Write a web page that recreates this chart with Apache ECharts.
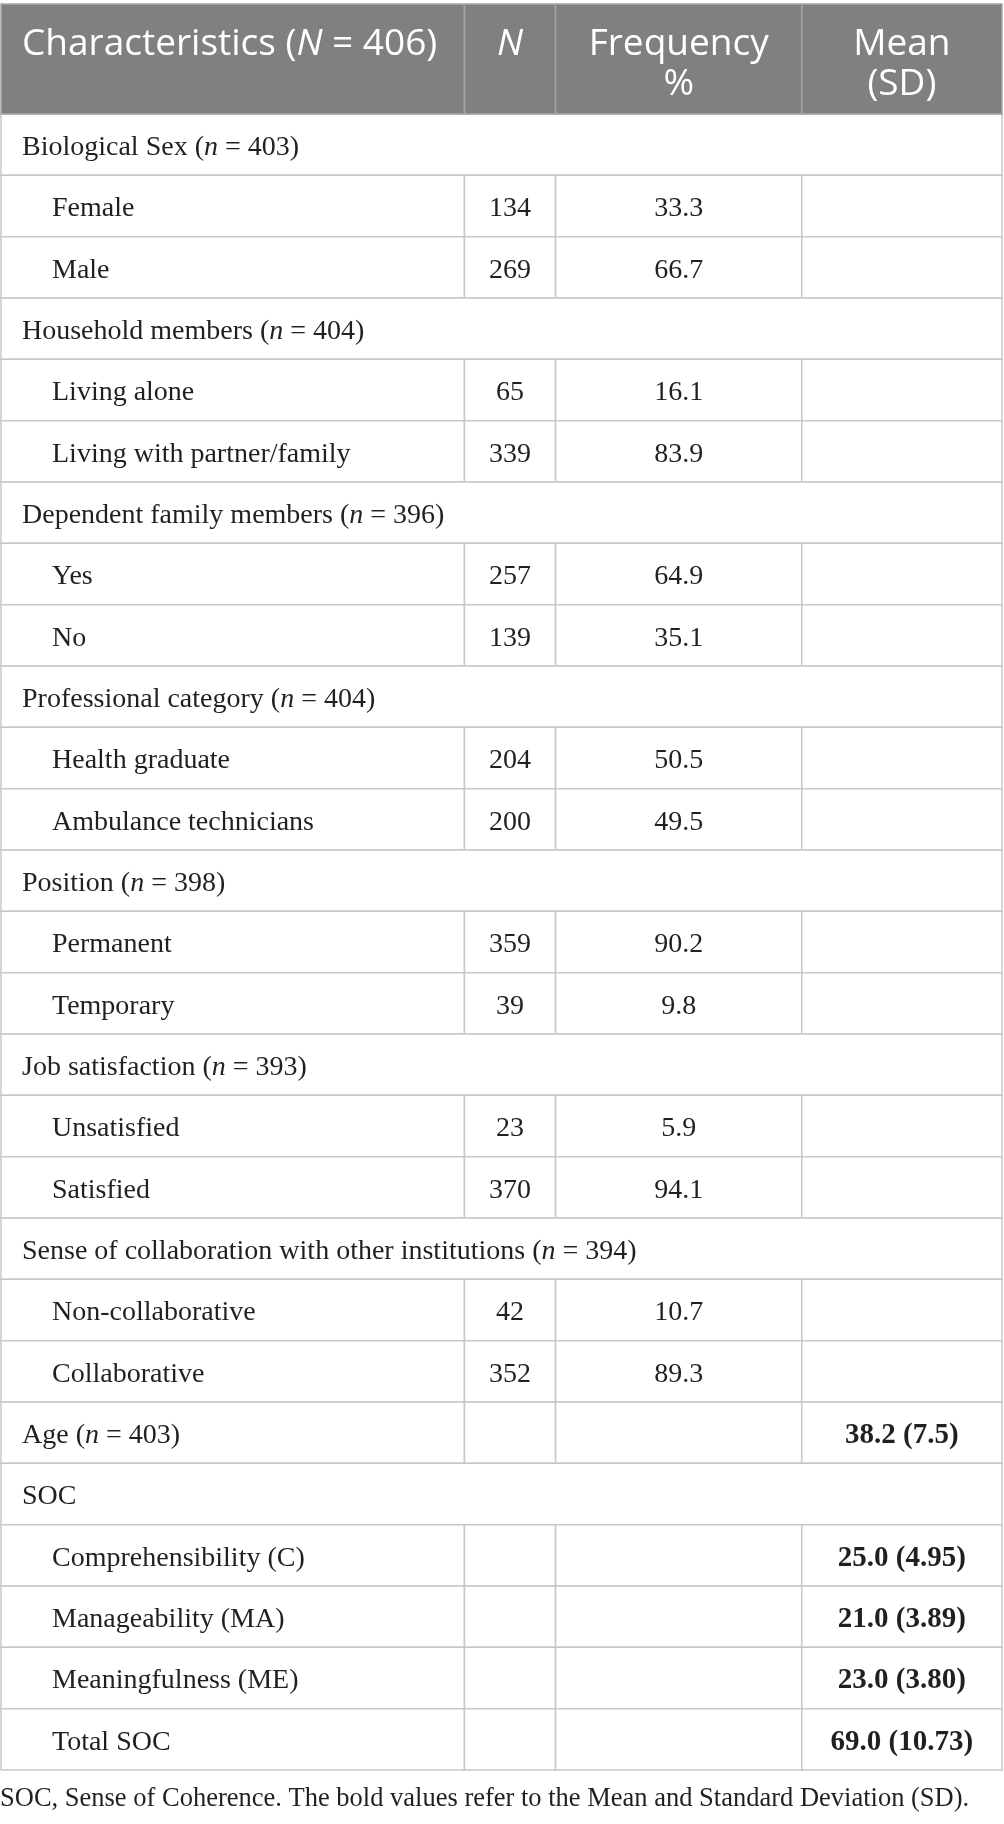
<!DOCTYPE html>
<html>
<head>
<meta charset="utf-8">
<script src="https://cdn.jsdelivr.net/npm/echarts@6/dist/echarts.min.js"></script>
<style>
  html, body { margin: 0; padding: 0; background: #fff; }
  #main { width: 1004px; height: 1824px; }
</style>
</head>
<body>
<div id="main"></div>
<script>
// row labels, top to bottom
const categories = [
  'Biological Sex', 'Female', 'Male',
  'Household members', 'Living alone', 'Living with partner/family',
  'Dependent family members', 'Yes', 'No',
  'Professional category', 'Health graduate', 'Ambulance technicians',
  'Position', 'Permanent', 'Temporary',
  'Job satisfaction', 'Unsatisfied', 'Satisfied',
  'Sense of collaboration with other institutions', 'Non-collaborative', 'Collaborative',
  'Age', 'SOC',
  'Comprehensibility (C)', 'Manageability (MA)', 'Meaningfulness (ME)', 'Total SOC'
];
// span = full width group row, group = top level row with cells, item = indented row
const rowKind = [
  'span', 'item', 'item',
  'span', 'item', 'item',
  'span', 'item', 'item',
  'span', 'item', 'item',
  'span', 'item', 'item',
  'span', 'item', 'item',
  'span', 'item', 'item',
  'group', 'span',
  'item', 'item', 'item', 'item'
];
// sub-sample sizes (n) per group row
const groupN = [
  403, null, null,
  404, null, null,
  396, null, null,
  404, null, null,
  398, null, null,
  393, null, null,
  394, null, null,
  403, null,
  null, null, null, null
];
const counts = [
  null, 134, 269,
  null, 65, 339,
  null, 257, 139,
  null, 204, 200,
  null, 359, 39,
  null, 23, 370,
  null, 42, 352,
  null, null,
  null, null, null, null
];
const freqPct = [
  null, 33.3, 66.7,
  null, 16.1, 83.9,
  null, 64.9, 35.1,
  null, 50.5, 49.5,
  null, 90.2, 9.8,
  null, 5.9, 94.1,
  null, 10.7, 89.3,
  null, null,
  null, null, null, null
];
const means = [
  null, null, null, null, null, null, null, null, null, null, null, null,
  null, null, null, null, null, null, null, null, null,
  38.2, null,
  25.0, 21.0, 23.0, 69.0
];
const sdText = [
  null, null, null, null, null, null, null, null, null, null, null, null,
  null, null, null, null, null, null, null, null, null,
  '7.5', null,
  '4.95', '3.89', '3.80', '10.73'
];
const totalN = 406;
const footnote = 'SOC, Sense of Coherence. The bold values refer to the Mean and Standard Deviation (SD).';

// column edges in % of table width
const colEdges = [0, 46.3, 55.4, 80.0, 100];

const SERIF = '"Liberation Serif", "DejaVu Serif", serif';
const SANS = '"Open Sans", "Noto Sans", sans-serif';
const BODY_SIZE = 28;
const HEAD_SIZE = 37;
const INK = '#231f20';
const LINE = '#c8c8c8';
const HEAD_BG = '#808080';
const HEAD_H = 110;
const TEXT_DY = 3;

const chart = echarts.init(document.getElementById('main'), null, { renderer: 'canvas' });

function bodyRow(params, api) {
  const i = api.value(0);
  const cy = api.coord([0, i])[1];
  const h = api.size([0, 1])[1];
  const y0 = cy - h / 2;
  const ty = cy + TEXT_DY;
  const xs = colEdges.map(e => api.coord([e, i])[0]);
  const kind = rowKind[i];
  const children = [];
  const rich = {
    t: { fontFamily: SERIF, fontSize: BODY_SIZE, fill: INK },
    i: { fontFamily: SERIF, fontSize: BODY_SIZE, fill: INK, fontStyle: 'italic' }
  };
  if (kind === 'span') {
    children.push({
      type: 'rect',
      shape: { x: xs[0], y: y0, width: xs[4] - xs[0], height: h },
      style: { fill: '#fff', stroke: LINE, lineWidth: 1.5 }
    });
  } else {
    for (let k = 0; k < 4; k++) {
      children.push({
        type: 'rect',
        shape: { x: xs[k], y: y0, width: xs[k + 1] - xs[k], height: h },
        style: { fill: '#fff', stroke: LINE, lineWidth: 1.5 }
      });
    }
  }
  let label = '{t|' + categories[i] + '}';
  if (groupN[i] != null) label = '{t|' + categories[i] + ' (}{i|n}{t| = ' + groupN[i] + ')}';
  children.push({
    type: 'text',
    style: {
      x: xs[0] + (kind === 'item' ? 51 : 21), y: ty,
      text: label, rich: rich, fill: INK,
      align: 'left', verticalAlign: 'middle'
    }
  });
  if (counts[i] != null) {
    children.push({
      type: 'text',
      style: { x: (xs[1] + xs[2]) / 2, y: ty, text: String(counts[i]), font: BODY_SIZE + 'px ' + SERIF,
        fill: INK, align: 'center', verticalAlign: 'middle' }
    });
  }
  if (freqPct[i] != null) {
    children.push({
      type: 'text',
      style: { x: (xs[2] + xs[3]) / 2, y: ty, text: freqPct[i].toFixed(1), font: BODY_SIZE + 'px ' + SERIF,
        fill: INK, align: 'center', verticalAlign: 'middle' }
    });
  }
  if (means[i] != null) {
    children.push({
      type: 'text',
      style: { x: (xs[3] + xs[4]) / 2, y: ty, text: means[i].toFixed(1) + ' (' + sdText[i] + ')',
        font: 'bold ' + (BODY_SIZE + 1) + 'px ' + SERIF,
        fill: INK, align: 'center', verticalAlign: 'middle' }
    });
  }
  return { type: 'group', children: children };
}

function headerRow(params, api) {
  const cs = params.coordSys;
  const y0 = cs.y - HEAD_H;
  const xs = colEdges.map(e => api.coord([e, 0])[0]);
  const l1 = y0 + 40, l2 = y0 + 80;
  const children = [];
  for (let k = 0; k < 4; k++) {
    children.push({
      type: 'rect',
      shape: { x: xs[k], y: y0, width: xs[k + 1] - xs[k], height: HEAD_H },
      style: { fill: HEAD_BG, stroke: '#a6a6a6', lineWidth: 1.5 }
    });
  }
  const rich = {
    t: { fontFamily: SANS, fontSize: HEAD_SIZE, fill: '#fff' },
    i: { fontFamily: SANS, fontSize: HEAD_SIZE, fill: '#fff', fontStyle: 'italic' }
  };
  const font = HEAD_SIZE + 'px ' + SANS;
  children.push({ type: 'text', style: { x: xs[0] + 21, y: l1, fill: '#fff',
    text: '{t|Characteristics (}{i|N}{t| = ' + totalN + ')}', rich: rich, align: 'left', verticalAlign: 'middle' } });
  children.push({ type: 'text', style: { x: (xs[1] + xs[2]) / 2, y: l1,
    text: 'N', font: 'italic ' + font, fill: '#fff', align: 'center', verticalAlign: 'middle' } });
  children.push({ type: 'text', style: { x: (xs[2] + xs[3]) / 2, y: l1,
    text: 'Frequency', font: font, fill: '#fff', align: 'center', verticalAlign: 'middle' } });
  children.push({ type: 'text', style: { x: (xs[2] + xs[3]) / 2, y: l2,
    text: '%', font: font, fill: '#fff', align: 'center', verticalAlign: 'middle' } });
  children.push({ type: 'text', style: { x: (xs[3] + xs[4]) / 2, y: l1,
    text: 'Mean', font: font, fill: '#fff', align: 'center', verticalAlign: 'middle' } });
  children.push({ type: 'text', style: { x: (xs[3] + xs[4]) / 2, y: l2,
    text: '(SD)', font: font, fill: '#fff', align: 'center', verticalAlign: 'middle' } });
  return { type: 'group', children: children };
}

chart.setOption({
  animation: false,
  title: {
    text: footnote,
    left: 0,
    top: 1786,
    padding: 0,
    textStyle: { fontFamily: SERIF, fontSize: 26.5, fontWeight: 'normal', color: INK }
  },
  grid: { left: 1, right: 2, top: 114, bottom: 54 },
  xAxis: { type: 'value', min: 0, max: 100, show: false },
  yAxis: { type: 'category', data: categories, inverse: true, show: false },
  series: [
    {
      type: 'custom',
      renderItem: bodyRow,
      data: categories.map((c, i) => [i]),
      encode: { y: 0 },
      silent: true
    },
    {
      type: 'custom',
      renderItem: headerRow,
      data: [[0]],
      encode: { y: 0 },
      silent: true
    }
  ]
});
</script>
</body>
</html>
